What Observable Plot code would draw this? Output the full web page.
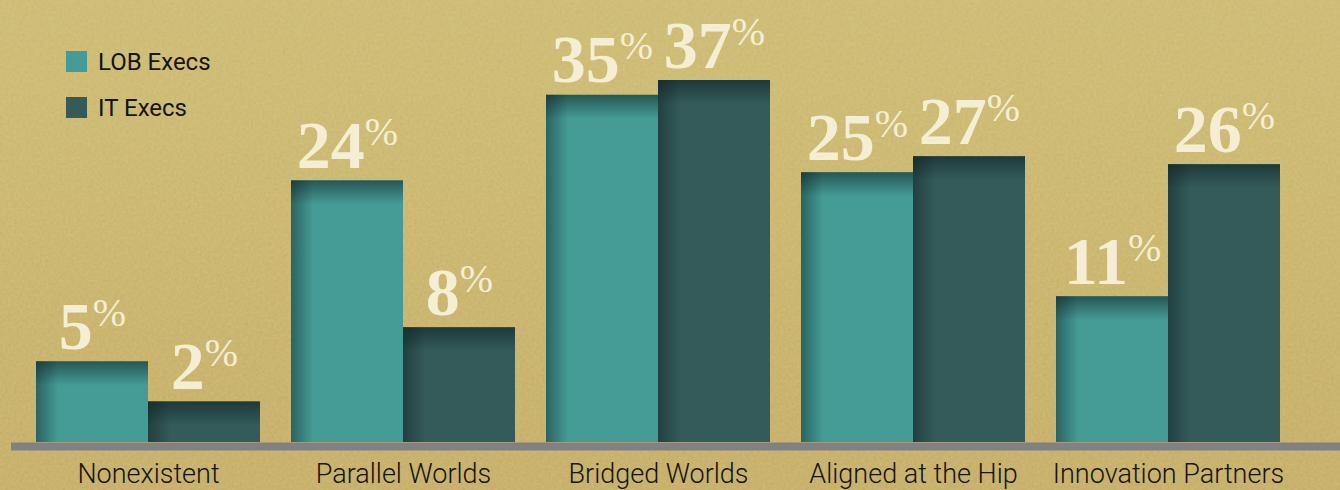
<!DOCTYPE html>
<html>
<head>
<meta charset="utf-8">
<script src="https://cdn.jsdelivr.net/npm/d3@7"></script>
<script src="https://cdn.jsdelivr.net/npm/@observablehq/plot@0.6"></script>
<style>
  html, body { margin: 0; padding: 0; }
  body {
    width: 1340px; height: 490px; overflow: hidden;
    background-color: #c5af66;
    background-image:
      url("data:image/svg+xml;utf8,<svg xmlns='http://www.w3.org/2000/svg' width='400' height='400'><filter id='n'><feTurbulence type='fractalNoise' baseFrequency='0.35' numOctaves='3' stitchTiles='stitch'/><feColorMatrix values='0 0 0 0 0.95  0 0 0 0 0.9  0 0 0 0 0.6  0 0 0 0.22 0'/></filter><rect width='100%' height='100%' filter='url(%23n)'/></svg>"),
      linear-gradient(180deg, #cab86f 0%, #c7b268 45%, #c2aa62 100%);
  }
  #wrap { position: relative; width: 1340px; height: 490px; }
  #wrap svg { position: absolute; left: 0; top: 0; }
  .legend { position: absolute; left: 66px; top: 51px; font-family: Roboto, sans-serif; font-size: 24px; color: #16140f; z-index: 2; }
  .legend .row { display: flex; align-items: center; height: 21px; margin-bottom: 25px; white-space: nowrap; }
  .legend .sw { width: 21px; height: 21px; margin-right: 11px; flex: none; }
</style>
</head>
<body>
<div id="wrap"></div>
<script>
// ---- data ----
const categories = ["Nonexistent", "Parallel Worlds", "Bridged Worlds", "Aligned at the Hip", "Innovation Partners"];
const seriesNames = ["LOB Execs", "IT Execs"];
const lobValues = [5, 24, 35, 25, 11];
const itValues = [2, 8, 37, 27, 26];
const seriesColors = ["#459b96", "#345a5a"];

const lobData = categories.map((c, i) => ({category: c, series: seriesNames[0], value: lobValues[i]}));
const itData = categories.map((c, i) => ({category: c, series: seriesNames[1], value: itValues[i]}));

const half = 112;
const labelStyle = {fontFamily: "'Liberation Serif', serif", fontWeight: "bold", fontSize: 68, fill: "#f5eed4", lineAnchor: "bottom", textAnchor: "middle"};

const chart = Plot.plot({
  width: 1340, height: 490,
  marginTop: 80, marginBottom: 48, marginLeft: 11, marginRight: 0,
  style: {background: "transparent", overflow: "visible", color: "#16140f"},
  x: {domain: categories, paddingInner: 0.123, paddingOuter: 0, insetLeft: 24, insetRight: 59, axis: null},
  y: {type: "pow", exponent: 0.75, domain: [0, 37], axis: null},
  color: {domain: seriesNames, range: seriesColors},
  marks: [
    Plot.barY(lobData, {x: "category", y: "value", fill: "series", insetRight: half}),
    Plot.barY(itData, {x: "category", y: "value", fill: "series", insetLeft: half}),
    Plot.ruleY([0], {stroke: "#818084", strokeWidth: 8, dy: 4}),
    Plot.text(lobData, {x: "category", y: "value", text: d => String(d.value), dx: -56, dy: -13, ...labelStyle}),
    Plot.text(itData, {x: "category", y: "value", text: d => String(d.value), dx: 56, dy: -13, ...labelStyle}),
    Plot.axisX({tickSize: 0, tickPadding: 21, fontSize: 27, fontWeight: 300, fontFamily: "Roboto, sans-serif", fill: "#16140f", label: null})
  ]
});

const svg = d3.select(chart);

// superscript percent signs
svg.selectAll('g[aria-label="text"] text').each(function() {
  d3.select(this).append("tspan")
    .attr("font-size", 40).attr("font-weight", "normal").attr("dy", -23).text("%");
});

// inner shadows on bars
const defs = svg.insert("defs", ":first-child");
function grad(id, horiz, color, op) {
  const g = defs.append("linearGradient").attr("id", id)
    .attr("x1", 0).attr("y1", 0).attr("x2", horiz ? 1 : 0).attr("y2", horiz ? 0 : 1);
  g.append("stop").attr("offset", 0).attr("stop-color", color).attr("stop-opacity", op);
  g.append("stop").attr("offset", 1).attr("stop-color", color).attr("stop-opacity", 0);
}
grad("shTop", false, "#0c1f21", 0.55);
grad("shLeft", true, "#0c1f21", 0.45);

svg.selectAll('g[aria-label="bar"]').each(function() {
  const g = d3.select(this);
  const rects = g.selectAll("rect").nodes();
  rects.forEach(n => {
    const x = +n.getAttribute("x"), y = +n.getAttribute("y"),
          w = +n.getAttribute("width"), h = +n.getAttribute("height");
    g.append("rect").attr("x", x).attr("y", y).attr("width", w).attr("height", Math.min(24, h)).attr("fill", "url(#shTop)");
    g.append("rect").attr("x", x).attr("y", y).attr("width", Math.min(22, w)).attr("height", h).attr("fill", "url(#shLeft)");
  });
});

const wrap = document.getElementById("wrap");
wrap.appendChild(chart);

// legend
const legend = document.createElement("div");
legend.className = "legend";
seriesNames.forEach((s, i) => {
  const row = document.createElement("div");
  row.className = "row";
  const sw = document.createElement("span");
  sw.className = "sw";
  sw.style.background = seriesColors[i];
  const t = document.createElement("span");
  t.textContent = s;
  row.appendChild(sw); row.appendChild(t);
  legend.appendChild(row);
});
wrap.appendChild(legend);
</script>
</body>
</html>
